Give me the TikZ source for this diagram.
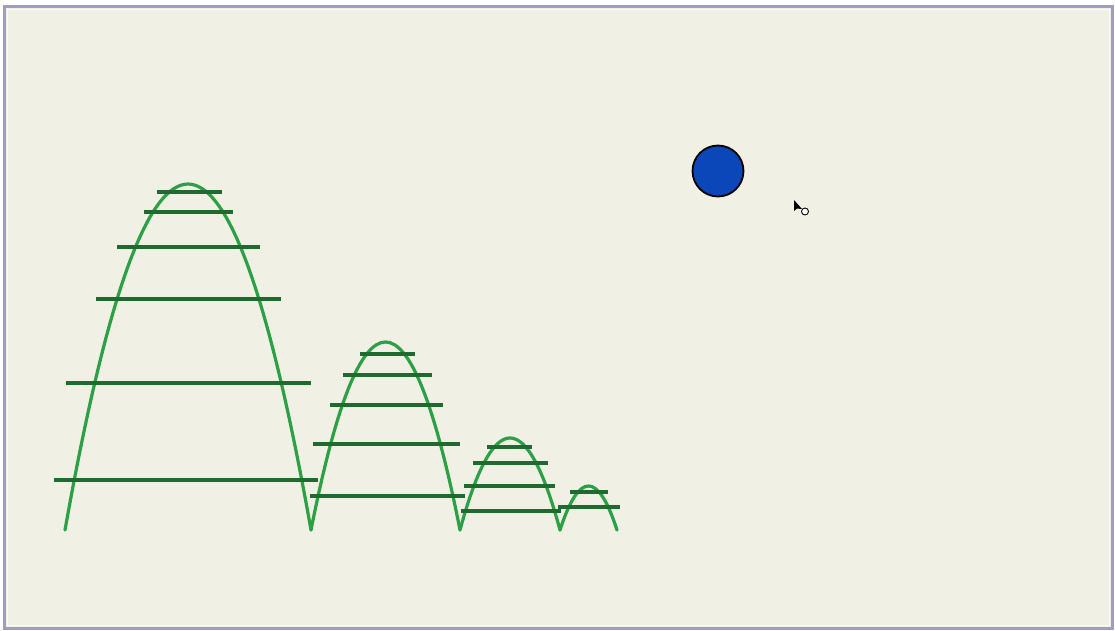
\documentclass[tikz,border=0pt]{standalone}
\usepackage{tikz}
\definecolor{bgc}{HTML}{F0F0E4}
\definecolor{framec}{HTML}{A09CC8}
\definecolor{archc}{HTML}{2BA045}
\definecolor{levelc}{HTML}{1F6A2E}
\definecolor{ballc}{HTML}{0B47B8}
\tikzset{
  arch/.style={draw=archc, line width=3.2pt, line cap=round},
  level/.style={draw=levelc, line width=3.4pt},
}
\begin{document}
\begin{tikzpicture}[x=1pt,y=-1pt]
\useasboundingbox (0,0) rectangle (1115,630);
\fill[white] (0,0) rectangle (1115,630);
\draw[fill=bgc, draw=framec, line width=3pt] (4,6) rectangle (1112,628);
\draw[draw=white!70!bgc, line width=1pt] (7,9) rectangle (1109,625);
% arches
\draw[arch] (65,530) .. controls (147,68.7) and (229,68.7) .. (311,530);
\draw[arch] (311,530) .. controls (360.7,279.3) and (410.3,279.3) .. (460,530);
\draw[arch] (460,530) .. controls (493.3,407.3) and (526.7,407.3) .. (560,530);
\draw[arch] (560,530) .. controls (579,471.3) and (598,471.3) .. (617,530);
% levels arch 1
\draw[level] (157,192) -- (222,192);
\draw[level] (144,212) -- (233,212);
\draw[level] (117,247) -- (260,247);
\draw[level] (96,299) -- (281,299);
\draw[level] (66,383) -- (311,383);
\draw[level] (54,480) -- (318,480);
% arch 2
\draw[level] (360,354) -- (415,354);
\draw[level] (343,375) -- (432,375);
\draw[level] (330,405) -- (443,405);
\draw[level] (313,444) -- (460,444);
\draw[level] (310,496) -- (465,496);
% arch 3
\draw[level] (487,447) -- (532,447);
\draw[level] (473,463) -- (548,463);
\draw[level] (464,486) -- (555,486);
\draw[level] (461,511) -- (561,511);
% arch 4
\draw[level] (570,492) -- (608,492);
\draw[level] (558,507) -- (620,507);
% ball
\node[circle, draw=black, line width=1.8pt, fill=ballc, minimum size=51pt, inner sep=0pt] (ball) at (718,171) {};
% cursor
\fill[black] (794,200) -- (794,211) -- (797,208.5) -- (802,209) -- cycle;
\draw[black, fill=white, line width=0.9pt] (805,211.5) circle (3.5);
\end{tikzpicture}
\end{document}
